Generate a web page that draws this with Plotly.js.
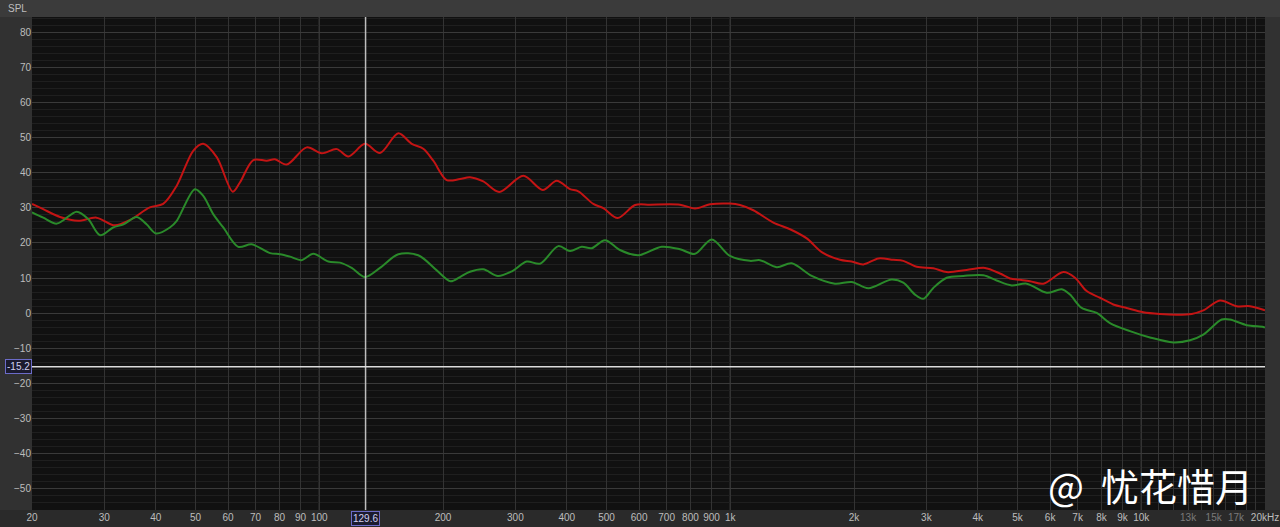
<!DOCTYPE html>
<html>
<head>
<meta charset="utf-8">
<script src="https://cdn.plot.ly/plotly-3.0.1.min.js"></script>
<style>
html,body{margin:0;padding:0;background:#333333;}
#chart{width:1280px;height:527px;}
</style>
</head>
<body>
<div id="chart"></div>
<script>
// ---- data (Hz, dB SPL) ----
const redFreq = [20, 21.3, 23.4, 25.9, 28.7, 31.8, 34.6, 38.7, 41.7, 45.0, 49.4, 52.2, 56.3, 61.6, 64.1, 69.1, 74.5, 78.0, 83.3, 93.2, 101.4, 110.3, 117.7, 129.2, 140.5, 155.7, 167.9, 179.1, 189.4, 204.2, 220, 232.6, 250.6, 274.2, 313.6, 349.7, 378.2, 407.4, 426.8, 464.3, 491, 532.2, 586.6, 637.8, 754.6, 820.7, 892.6, 998.4, 1056, 1138, 1273, 1398, 1535, 1669, 1849, 1974, 2108, 2292, 2492, 2636, 2842, 3119, 3362, 3760, 4166, 4531, 4793, 5069, 5362, 5775, 6461, 6898, 7365, 7935, 8547, 9215, 10113, 11104, 12197, 13268, 14157, 15542, 17067, 18389, 19812, 20000];
const redSPL  = [31.1, 29.6, 27.4, 26.3, 27.2, 25.0, 26.5, 30.1, 31.1, 36.3, 46.3, 48.2, 44.4, 34.6, 37.2, 43.6, 43.4, 43.8, 42.3, 47.2, 45.5, 46.7, 44.6, 48.2, 45.6, 51.2, 48.2, 46.8, 43.4, 37.9, 38.2, 38.7, 37.5, 34.5, 39.1, 35.1, 37.7, 35.3, 34.7, 31.1, 29.9, 27.1, 30.8, 30.9, 30.9, 29.8, 31.0, 31.2, 30.8, 29.3, 25.8, 23.9, 21.3, 17.4, 15.2, 14.7, 13.9, 15.6, 15.2, 14.9, 13.2, 12.8, 11.7, 12.3, 12.9, 11.3, 9.9, 9.5, 9.1, 8.4, 11.7, 10.1, 6.3, 4.4, 2.5, 1.5, 0.3, -0.2, -0.4, -0.2, 0.8, 3.6, 2.0, 2.0, 1.0, 0.8];

const greenFreq = [20, 21.3, 23.0, 25.7, 27.4, 29.3, 31.5, 33.4, 35.95, 38.0, 40.1, 43.3, 45.0, 49.8, 52.2, 55.2, 58.4, 63.5, 68.5, 75.9, 80.3, 84.9, 90.6, 96.7, 105.2, 112.3, 119.9, 129.2, 140.5, 155.7, 174.1, 193.1, 208.6, 220, 232.6, 250.6, 272, 295, 319.6, 344.4, 381.6, 407.4, 435, 460.1, 495.7, 539.1, 597.5, 681, 754.6, 820.7, 901.3, 998.4, 1117, 1181, 1297, 1411, 1578, 1798, 1974, 2167, 2470, 2636, 2815, 2949, 3119, 3362, 3690, 4128, 4448, 4838, 5263, 5888, 6403, 6707, 7161, 7789, 8391, 9387, 10500, 11966, 13143, 14157, 15690, 16438, 18053, 19812, 20000];
const greenSPL  = [28.7, 27.2, 25.5, 28.9, 26.8, 22.2, 24.4, 25.3, 27.4, 25.3, 22.7, 24.4, 26.3, 35.3, 33.4, 28.2, 24.4, 18.9, 19.6, 17.1, 16.8, 16.1, 15.1, 16.9, 14.7, 14.4, 12.9, 10.3, 12.9, 16.8, 16.5, 12.2, 9.1, 10.3, 11.8, 12.5, 10.6, 12.0, 14.7, 14.1, 19.1, 17.7, 18.9, 18.5, 20.8, 18.0, 16.5, 18.9, 18.2, 16.9, 21.0, 16.3, 14.9, 15.1, 13.1, 14.2, 10.6, 8.4, 8.9, 7.1, 9.6, 8.7, 5.3, 4.1, 7.2, 10.1, 10.6, 10.8, 9.3, 7.9, 8.4, 5.8, 6.8, 5.3, 1.5, 0.1, -2.8, -5.1, -6.9, -8.3, -7.7, -6.1, -1.8, -1.8, -3.4, -3.9, -4.1];

// ---- axis ticks ----
const xTickVals = [20, 30, 40, 50, 60, 70, 80, 90, 100, 200, 300, 400, 500, 600, 700, 800, 900, 1000, 2000, 3000, 4000, 5000, 6000, 7000, 8000, 9000, 10000, 11000, 12000, 13000, 14000, 15000, 16000, 17000, 18000, 19000, 20000];
const xTickText = ['20', '30', '40', '50', '60', '70', '80', '90', '100', '200', '300', '400', '500', '600', '700', '800', '900', '1k', '2k', '3k', '4k', '5k', '6k', '7k', '8k', '9k', '10k',
  '', '', '<span style="color:#7a7a7a">13k</span>', '', '<span style="color:#7a7a7a">15k</span>', '', '<span style="color:#7a7a7a">17k</span>', '', '', '20kHz'];
const yTickVals = [80, 70, 60, 50, 40, 30, 20, 10, 0, -10, -20, -30, -40, -50];
const decadeLines = [100, 1000, 10000];
const cursorFreq = 129.6;
const cursorSPL = -15.2;

const traces = [
  {x: redFreq, y: redSPL, type: 'scatter', mode: 'lines', name: 'A',
   line: {color: '#c41414', width: 2, shape: 'spline', smoothing: 0.9}, hoverinfo: 'skip'},
  {x: greenFreq, y: greenSPL, type: 'scatter', mode: 'lines', name: 'B',
   line: {color: '#2a8a2a', width: 2, shape: 'spline', smoothing: 0.9}, hoverinfo: 'skip'}
];

const shapes = [];
// background bands outside the plot area
shapes.push({type: 'rect', xref: 'paper', yref: 'paper', x0: -0.03, x1: 1.02, y0: 1, y1: 1.04, fillcolor: '#3b3b3b', line: {width: 0}, layer: 'below'});
shapes.push({type: 'rect', xref: 'paper', yref: 'paper', x0: -0.03, x1: 1.02, y0: -0.04, y1: 0, fillcolor: '#2a2a2a', line: {width: 0}, layer: 'below'});
decadeLines.forEach(f => shapes.push({type: 'line', xref: 'x', yref: 'paper', x0: f, x1: f, y0: 0, y1: 1,
  line: {color: '#5c5c5c', width: 1}, layer: 'below'}));
shapes.push({type: 'line', xref: 'x', yref: 'paper', x0: cursorFreq, x1: cursorFreq, y0: 0, y1: 1, line: {color: '#bdbdbd', width: 1.5}, layer: 'above'});
shapes.push({type: 'line', xref: 'paper', yref: 'y', x0: 0, x1: 1, y0: cursorSPL, y1: cursorSPL, line: {color: '#dcdcdc', width: 1.5}, layer: 'above'});

const labelFont = {family: 'Liberation Sans, Arial, sans-serif', size: 10, color: '#bdbdbd'};

const layout = {
  width: 1280, height: 527,
  margin: {l: 32, r: 15, t: 17, b: 17, pad: 0},
  paper_bgcolor: '#313131',
  plot_bgcolor: '#111111',
  showlegend: false,
  font: labelFont,
  xaxis: {
    type: 'log',
    range: [Math.log10(20), Math.log10(20000)],
    tickmode: 'array', tickvals: xTickVals, ticktext: xTickText,
    showgrid: true, gridcolor: '#333333', gridwidth: 1,
    zeroline: false, showline: false, ticks: '', tickangle: 0,
    tickfont: labelFont, fixedrange: true
  },
  yaxis: {
    range: [-56, 84.3],
    tickmode: 'array', tickvals: yTickVals,
    showgrid: true, gridcolor: '#3a3a3a', gridwidth: 1,
    minor: {dtick: 2, tick0: 0, showgrid: true, gridcolor: '#1f1f1f', ticks: ''},
    zeroline: false, showline: false, ticks: '',
    tickfont: labelFont, fixedrange: true
  },
  shapes: shapes,
  annotations: [
    {text: 'SPL', xref: 'paper', yref: 'paper', x: -0.0115, y: 1.018, xanchor: 'center', yanchor: 'middle', showarrow: false,
     font: {family: 'Liberation Sans, Arial, sans-serif', size: 10, color: '#bdbdbd'}},
    {text: '-15.2', xref: 'paper', yref: 'y', x: -0.011, y: cursorSPL, xanchor: 'center', yanchor: 'middle', showarrow: false,
     font: {family: 'Liberation Sans, Arial, sans-serif', size: 10, color: '#d0d0f0'},
     bgcolor: '#1b1b2e', bordercolor: '#6b6bc8', borderwidth: 1, borderpad: 1},
    {text: '129.6', xref: 'x', yref: 'paper', x: Math.log10(cursorFreq), y: -0.017, xanchor: 'center', yanchor: 'middle', showarrow: false,
     font: {family: 'Liberation Sans, Arial, sans-serif', size: 10, color: '#d0d0f0'},
     bgcolor: '#1b1b2e', bordercolor: '#6b6bc8', borderwidth: 1, borderpad: 1},
    {text: '@&nbsp;&nbsp;忧花惜月', xref: 'paper', yref: 'paper', x: 0.9075, y: 0.052, xanchor: 'center', yanchor: 'middle', showarrow: false,
     font: {family: 'Noto Sans CJK SC, sans-serif', size: 38, color: '#ffffff'}}
  ]
};

Plotly.newPlot('chart', traces, layout, {staticPlot: true, displayModeBar: false});
</script>
</body>
</html>
